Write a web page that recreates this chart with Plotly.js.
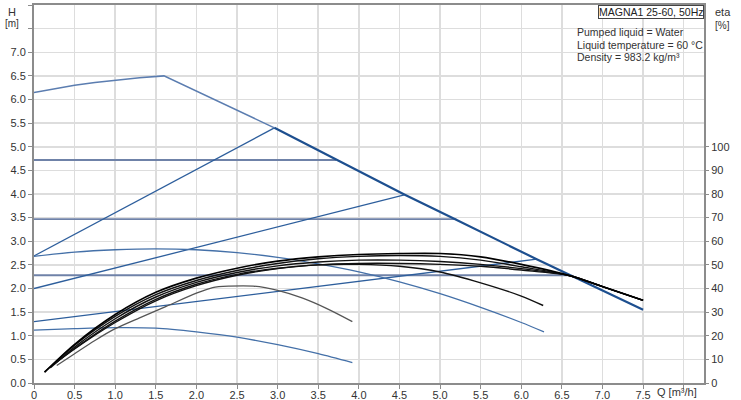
<!DOCTYPE html>
<html>
<head>
<meta charset="utf-8">
<script src="https://cdn.plot.ly/plotly-3.0.1.min.js"></script>
<style>html,body{margin:0;padding:0;background:#fff;}#chart{width:741px;height:400px;}</style>
</head>
<body>
<div id="chart"></div>
<script>
// ---- Head curves (H in m vs Q in m3/h) ----
const maxQ = [0, 0.25, 0.5, 0.75, 1.0, 1.3, 1.6, 2.96];
const maxH = [6.15, 6.23, 6.30, 6.36, 6.41, 6.46, 6.50, 5.40];
const limQ = [2.96, 3.7, 4.56, 5.18, 6.19, 7.5];
const limH = [5.40, 4.74, 3.99, 3.47, 2.62, 1.55];

const pp1Q = [0, 2.96], pp1H = [2.69, 5.40];
const pp2Q = [0, 4.56], pp2H = [2.00, 3.98];
const pp3Q = [0, 6.19], pp3H = [1.30, 2.62];

const cp1Q = [0, 3.72], cp1H = [4.72, 4.72];
const cp2Q = [0, 5.20], cp2H = [3.47, 3.47];
const cp3Q = [0, 6.60], cp3H = [2.28, 2.28];

const spdAQ = [0, 0.5, 1.0, 1.5, 2.0, 2.5, 3.0, 3.5, 4.0, 4.5, 5.0, 5.5, 6.0, 6.28];
const spdAH = [2.68, 2.77, 2.82, 2.84, 2.82, 2.76, 2.66, 2.52, 2.35, 2.14, 1.89, 1.60, 1.28, 1.08];
const spdBQ = [0, 0.5, 1.0, 1.5, 2.0, 2.5, 3.0, 3.5, 3.92];
const spdBH = [1.12, 1.15, 1.17, 1.16, 1.08, 0.97, 0.81, 0.62, 0.43];

// ---- Efficiency curves (eta in % vs Q) ----
const effQ1 = [0.13, 0.5, 1, 1.5, 2, 2.5, 3, 3.5, 4, 4.5, 5, 5.5, 6, 6.6, 7, 7.5];
const eff1  = [4.6, 16.4, 29.0, 38.4, 44.4, 48.6, 51.6, 53.4, 54.4, 54.8, 54.8, 53.4, 50.2, 45.4, 40.8, 35.0];
const effQ2 = [0.13, 0.5, 1, 1.5, 2, 2.5, 3, 3.5, 4, 4.5, 5, 5.5, 6, 6.6, 7, 7.5];
const eff2  = [4.6, 16.0, 28.2, 37.4, 43.4, 47.6, 50.6, 52.6, 53.6, 54.0, 53.6, 52.0, 49.2, 45.4, 40.8, 35.0];
const effQ3 = [0.2, 0.5, 1, 1.5, 2, 2.5, 3, 3.5, 4, 4.5, 5, 5.5, 6, 6.6, 7, 7.5];
const eff3  = [6.4, 15.2, 27.2, 36.4, 42.6, 46.8, 49.6, 51.2, 52.0, 52.0, 51.4, 50.2, 48.4, 45.4, 40.8, 35.0];
const effQ4 = [0.24, 0.5, 1, 1.5, 2, 2.5, 3, 3.5, 4, 4.5, 5, 5.5, 6, 6.6, 7, 7.5];
const eff4  = [7.8, 14.6, 26.2, 35.4, 41.8, 46.0, 48.6, 50.0, 50.6, 50.6, 50.2, 49.4, 47.8, 45.4, 40.8, 35.0];
const effQ5 = [0.24, 0.5, 1, 1.5, 2, 2.5, 3, 3.5, 4, 4.5, 5, 5.5, 6, 6.27];
const eff5  = [7.8, 14.4, 25.6, 34.8, 41.2, 45.6, 48.4, 50.0, 50.2, 49.4, 47.0, 42.4, 36.8, 32.8];
const effQ6 = [0.28, 0.5, 0.75, 1, 1.3, 1.6, 2, 2.2, 2.4, 2.7, 3, 3.3, 3.6, 3.92];
const eff6  = [7.4, 12.4, 18.0, 23.0, 27.6, 32.0, 38.0, 40.4, 41.0, 41.0, 39.2, 36.0, 31.6, 26.0];

// ---- Tick labels ----
const xTickVals = [0,0.5,1,1.5,2,2.5,3,3.5,4,4.5,5,5.5,6,6.5,7,7.5,8];
const xTickText = ['0','0.5','1.0','1.5','2.0','2.5','3.0','3.5','4.0','4.5','5.0','5.5','6.0','6.5','7.0','7.5',''];
const yTickVals = [0,0.5,1,1.5,2,2.5,3,3.5,4,4.5,5,5.5,6,6.5,7,7.5,8];
const yTickText = ['0.0','0.5','1.0','1.5','2.0','2.5','3.0','3.5','4.0','4.5','5.0','5.5','6.0','6.5','7.0','',''];
const y2TickVals = [0,10,20,30,40,50,60,70,80,90,100];

const cMax = '#5b7db0', cLim = '#1d4f8f', cPP = '#2d5e9c', cCP = '#6f82a8', cSpd = '#4470a8';

function ln(x, y, color, width, shape, axis) {
  return {x: x, y: y, type: 'scatter', mode: 'lines', yaxis: axis || 'y',
    line: {color: color, width: width, shape: shape || 'linear', smoothing: 0.8},
    hoverinfo: 'skip', showlegend: false};
}

const traces = [
  ln(cp1Q, cp1H, cCP, 1.8), ln(cp2Q, cp2H, cCP, 1.8), ln(cp3Q, cp3H, cCP, 1.8),
  ln(pp1Q, pp1H, cPP, 1.3), ln(pp2Q, pp2H, cPP, 1.3), ln(pp3Q, pp3H, cPP, 1.3),
  ln(spdAQ, spdAH, cSpd, 1.3, 'spline'), ln(spdBQ, spdBH, cSpd, 1.3, 'spline'),
  ln(maxQ, maxH, cMax, 1.5),
  ln(limQ, limH, cLim, 2.2),
  ln(effQ6, eff6, '#555555', 1.3, 'spline', 'y2'),
  ln(effQ5, eff5, '#111111', 1.4, 'spline', 'y2'),
  ln(effQ4, eff4, '#111111', 1.4, 'spline', 'y2'),
  ln(effQ3, eff3, '#111111', 1.4, 'spline', 'y2'),
  ln(effQ2, eff2, '#111111', 1.4, 'spline', 'y2'),
  ln(effQ1, eff1, '#000000', 1.6, 'spline', 'y2')
];

const axFont = {family: 'Liberation Sans, Arial, sans-serif', size: 11, color: '#333'};
const layout = {
  width: 741, height: 400,
  margin: {l: 34, r: 37, t: 5, b: 17, pad: 0},
  paper_bgcolor: '#fff', plot_bgcolor: '#fff',
  font: axFont,
  showlegend: false,
  xaxis: {range: [0, 8.25], tickmode: 'array', tickvals: xTickVals, ticktext: xTickText,
    showgrid: true, gridcolor: '#dddddd', gridwidth: 1.5, zeroline: false,
    showline: true, linecolor: '#8c8c8c', linewidth: 2, mirror: true,
    ticks: 'outside', ticklen: 4, tickcolor: '#8c8c8c', tickfont: axFont, ticklabelstandoff: -3, fixedrange: true},
  yaxis: {range: [0, 8], tickmode: 'array', tickvals: yTickVals, ticktext: yTickText,
    showgrid: true, gridcolor: '#dddddd', gridwidth: 1.5, zeroline: false,
    showline: true, linecolor: '#8c8c8c', linewidth: 2, mirror: true,
    ticks: 'outside', ticklen: 4, tickcolor: '#8c8c8c', tickfont: axFont, fixedrange: true},
  yaxis2: {range: [0, 160], overlaying: 'y', side: 'right', tickmode: 'array', tickvals: y2TickVals,
    showgrid: false, zeroline: false, showline: false,
    ticks: 'outside', ticklen: 4, tickcolor: '#8c8c8c', tickfont: axFont, fixedrange: true},
  annotations: [
    {xref: 'paper', yref: 'paper', x: -0.033, y: 0.981, text: 'H', showarrow: false, font: {size: 11, color: '#333'}, xanchor: 'center', yanchor: 'middle'},
    {xref: 'paper', yref: 'paper', x: -0.033, y: 0.950, text: '[m]', showarrow: false, font: {size: 10, color: '#333'}, xanchor: 'center', yanchor: 'middle'},
    {xref: 'paper', yref: 'paper', x: 1.028, y: 0.981, text: 'eta', showarrow: false, font: {size: 11, color: '#333'}, xanchor: 'center', yanchor: 'middle'},
    {xref: 'paper', yref: 'paper', x: 1.027, y: 0.947, text: '[%]', showarrow: false, font: {size: 10, color: '#333'}, xanchor: 'center', yanchor: 'middle'},
    {xref: 'paper', yref: 'paper', x: 0.96, y: -0.024, text: 'Q [m³/h]', showarrow: false, font: {size: 11, color: '#333'}, xanchor: 'center', yanchor: 'middle'},
    {xref: 'paper', yref: 'paper', x: 1.0, y: 1.0, text: 'MAGNA1 25-60, 50Hz', showarrow: false,
      font: {size: 10.5, color: '#222'}, xanchor: 'right', yanchor: 'top', bgcolor: '#fff', bordercolor: '#444', borderwidth: 1, borderpad: 0},
    {xref: 'paper', yref: 'paper', x: 0.807, y: 0.929, text: 'Pumped liquid = Water', showarrow: false, font: {size: 10.5, color: '#333'}, xanchor: 'left', yanchor: 'middle'},
    {xref: 'paper', yref: 'paper', x: 0.807, y: 0.895, text: 'Liquid temperature = 60 °C', showarrow: false, font: {size: 10.5, color: '#333'}, xanchor: 'left', yanchor: 'middle'},
    {xref: 'paper', yref: 'paper', x: 0.807, y: 0.862, text: 'Density = 983.2 kg/m³', showarrow: false, font: {size: 10.5, color: '#333'}, xanchor: 'left', yanchor: 'middle'}
  ]
};

Plotly.newPlot('chart', traces, layout, {displayModeBar: false, staticPlot: true});
</script>
</body>
</html>
